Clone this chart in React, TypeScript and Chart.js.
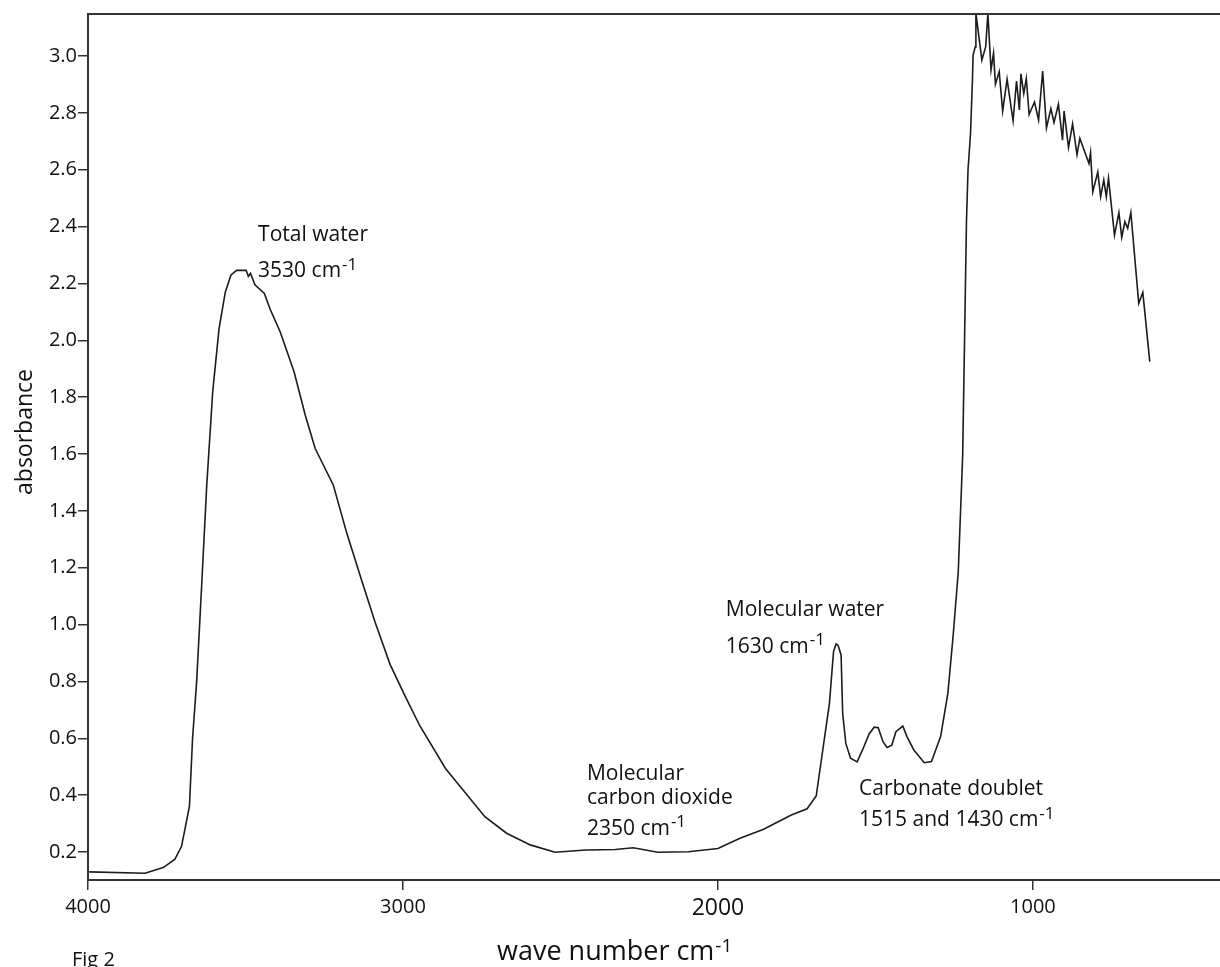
import { useEffect, useRef } from "react";
import { Chart, registerables } from "chart.js";

Chart.register(...registerables);

// FTIR absorbance spectrum (wave number in cm^-1, high to low)
const wavenumbers = [
  3996, 3819, 3761, 3724, 3703, 3678, 3668, 3655, 3639, 3623, 3604, 3584, 3564, 3546, 3528, 3498,
  3491, 3484, 3470, 3440, 3422, 3390, 3346, 3311, 3279, 3221, 3178, 3131, 3089, 3041, 2994, 2947,
  2865, 2740, 2671, 2596, 2517, 2420, 2326, 2269, 2191, 2094, 2000, 1930, 1855, 1767, 1717, 1688,
  1646, 1633, 1625, 1619, 1609, 1604, 1594, 1579, 1558, 1541, 1520, 1504, 1491, 1476, 1463, 1448,
  1435, 1413, 1400, 1378, 1345, 1322, 1293, 1270, 1253, 1237, 1223, 1216, 1211, 1206, 1198, 1192,
  1190, 1183, 1181, 1162, 1150, 1143, 1133, 1125, 1119, 1107, 1096, 1082, 1063, 1052, 1043, 1038,
  1029, 1021, 1012, 995, 982, 969, 957, 943, 933, 919, 906, 901, 887, 874, 860, 851,
  822, 817, 810, 794, 785, 775, 767, 760, 741, 727, 718, 708, 699, 689, 664, 651,
  629,
];

const absorbance = [
  0.13, 0.125, 0.145, 0.175, 0.22, 0.36, 0.6, 0.8, 1.14, 1.49, 1.82, 2.04, 2.17, 2.23, 2.246, 2.246,
  2.225, 2.235, 2.195, 2.165, 2.11, 2.03, 1.89, 1.74, 1.62, 1.49, 1.32, 1.155, 1.01, 0.86, 0.75, 0.645,
  0.494, 0.324, 0.266, 0.225, 0.199, 0.207, 0.209, 0.215, 0.199, 0.201, 0.212, 0.248, 0.28, 0.33, 0.352, 0.397,
  0.723, 0.905, 0.932, 0.928, 0.893, 0.688, 0.582, 0.53, 0.517, 0.559, 0.615, 0.639, 0.637, 0.588, 0.568, 0.576,
  0.623, 0.643, 0.606, 0.559, 0.514, 0.518, 0.606, 0.758, 0.964, 1.186, 1.595, 2.072, 2.414, 2.6, 2.728, 2.915,
  3.003, 3.032, 3.15, 2.986, 3.032, 3.15, 2.951, 3.01, 2.901, 2.945, 2.806, 2.918, 2.772, 2.912, 2.81, 2.937,
  2.868, 2.921, 2.794, 2.838, 2.775, 2.947, 2.747, 2.815, 2.766, 2.83, 2.704, 2.806, 2.678, 2.761, 2.653, 2.71,
  2.622, 2.66, 2.522, 2.592, 2.505, 2.564, 2.505, 2.57, 2.37, 2.449, 2.362, 2.417, 2.394, 2.449, 2.13, 2.168,
  1.925,
];

const xTickValues = [4000, 3000, 2000, 1000];
const yTickValues = [0.2, 0.4, 0.6, 0.8, 1.0, 1.2, 1.4, 1.6, 1.8, 2.0, 2.2, 2.4, 2.6, 2.8, 3.0];

// Band labels, anchored at (wave number, absorbance) of their first baseline
const bandLabels = [
  { text: "Total water", sup: "", wn: 3460, a: 2.349 },
  { text: "3530 cm", sup: "-1", wn: 3460, a: 2.222 },
  { text: "Molecular water", sup: "", wn: 1975, a: 1.03 },
  { text: "1630 cm", sup: "-1", wn: 1975, a: 0.9 },
  { text: "Molecular", sup: "", wn: 2416, a: 0.453 },
  { text: "carbon dioxide", sup: "", wn: 2416, a: 0.369 },
  { text: "2350 cm", sup: "-1", wn: 2416, a: 0.26 },
  { text: "Carbonate doublet", sup: "", wn: 1552, a: 0.4 },
  { text: "1515 and 1430 cm", sup: "-1", wn: 1552, a: 0.291 },
];

const FAMILY = "'Open Sans', 'DejaVu Sans', sans-serif";
const TEXT = "#111111";
const AXIS = "#333333";

function drawSup(
  ctx: CanvasRenderingContext2D,
  text: string,
  sup: string,
  x: number,
  y: number,
  size: number,
  supSize: number,
  raise: number
) {
  ctx.font = `${size}px ${FAMILY}`;
  ctx.fillText(text, x, y);
  if (sup) {
    const w = ctx.measureText(text).width;
    ctx.font = `${supSize}px ${FAMILY}`;
    ctx.fillText(sup, x + w + 1, y - raise);
  }
}

const decorations = {
  id: "decorations",
  afterDraw(chart: any) {
    const { ctx, chartArea, scales } = chart;
    ctx.save();

    // top frame line
    ctx.strokeStyle = AXIS;
    ctx.lineWidth = 2;
    ctx.beginPath();
    ctx.moveTo(chartArea.left - 1, chartArea.top);
    ctx.lineTo(chartArea.right, chartArea.top);
    ctx.stroke();

    ctx.fillStyle = TEXT;
    ctx.textAlign = "left";
    ctx.textBaseline = "alphabetic";

    for (const l of bandLabels) {
      const x = scales.x.getPixelForValue(l.wn);
      const y = scales.y.getPixelForValue(l.a);
      drawSup(ctx, l.text, l.sup, x, y, 21, 17, 7.5);
    }

    // x axis title
    drawSup(ctx, "wave number cm", "-1", 497, 960, 27, 19, 8);

    // figure caption
    ctx.font = `20px ${FAMILY}`;
    ctx.fillText("Fig 2", 72, 966);

    // y axis title
    ctx.save();
    ctx.translate(32, 432);
    ctx.rotate(-Math.PI / 2);
    ctx.textAlign = "center";
    ctx.font = `23px ${FAMILY}`;
    ctx.fillText("absorbance", 0, 0);
    ctx.restore();

    ctx.restore();
  },
};

export default function App() {
  const canvasRef = useRef<HTMLCanvasElement>(null);

  useEffect(() => {
    const canvas = canvasRef.current;
    if (!canvas) return;
    const chart = new Chart(canvas, {
      type: "line",
      data: {
        datasets: [
          {
            data: wavenumbers.map((w, i) => ({ x: w, y: absorbance[i] })),
            borderColor: "#1c1c1c",
            borderWidth: 1.6,
            pointRadius: 0,
            tension: 0,
            fill: false,
          },
        ],
      },
      options: {
        responsive: false,
        animation: false,
        devicePixelRatio: 1,
        layout: { padding: { top: 14, left: 0, right: 0, bottom: 0 } },
        plugins: { legend: { display: false }, tooltip: { enabled: false } },
        scales: {
          x: {
            type: "linear",
            reverse: true,
            min: 406,
            max: 4000,
            afterBuildTicks: (s: any) => {
              s.ticks = xTickValues.map((v) => ({ value: v }));
            },
            afterFit: (s: any) => {
              s.height = 87;
            },
            grid: {
              display: true,
              drawOnChartArea: false,
              drawTicks: true,
              tickLength: 10,
              color: AXIS,
              lineWidth: 1.5,
            },
            border: { display: true, color: AXIS, width: 2 },
            ticks: {
              padding: 5,
              color: TEXT,
              autoSkip: false,
              maxRotation: 0,
              font: (c: any) => ({ family: FAMILY, size: c.tick && c.tick.value === 2000 ? 23 : 20 }),
              callback: (v: any) => String(v),
            },
          },
          y: {
            type: "linear",
            min: 0.1015,
            max: 3.1477,
            afterBuildTicks: (s: any) => {
              s.ticks = yTickValues.map((v) => ({ value: v }));
            },
            afterFit: (s: any) => {
              s.width = 88;
            },
            grid: {
              display: true,
              drawOnChartArea: false,
              drawTicks: true,
              tickLength: 10,
              color: AXIS,
              lineWidth: 1.5,
            },
            border: { display: true, color: AXIS, width: 2 },
            ticks: {
              padding: 1,
              color: TEXT,
              autoSkip: false,
              font: { family: FAMILY, size: 20 },
              callback: (v: any) => Number(v).toFixed(1),
            },
          },
        },
      },
      plugins: [decorations],
    });
    return () => chart.destroy();
  }, []);

  return (
    <div style={{ position: "fixed", left: 0, top: 0, width: 1220, height: 967, background: "#ffffff" }}>
      <canvas ref={canvasRef} width={1220} height={967} style={{ display: "block" }} />
    </div>
  );
}
